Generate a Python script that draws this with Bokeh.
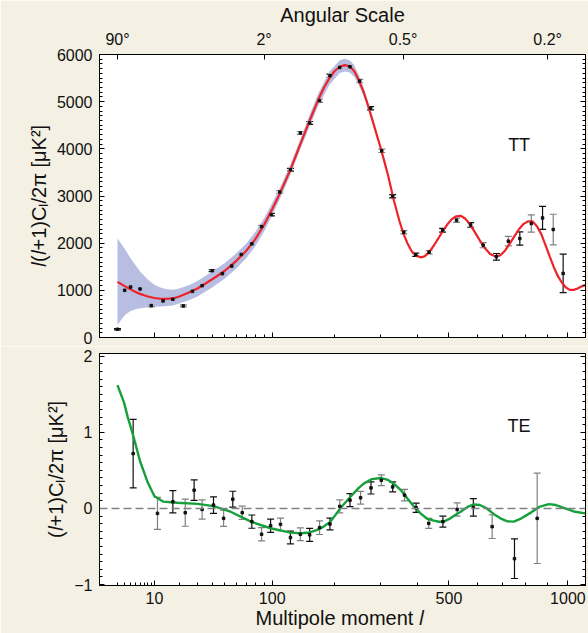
import numpy as np
from bokeh.plotting import figure
from bokeh.models import (Range1d, LinearAxis, FixedTicker, SingleIntervalTicker,
                          CustomJSTickFormatter, Whisker, TeeHead, ColumnDataSource,
                          Span, Label)
from bokeh.layouts import column
from bokeh.embed import file_html
from bokeh.resources import INLINE

# ---------------- data ----------------
# TT binned measurements: multipole, l(l+1)Cl/2pi [uK^2], 1-sigma error
tt_l = [2, 3, 4, 6, 9, 13, 17, 22, 27, 33, 40, 48, 56, 65, 76, 87, 99, 110, 125, 140,
        155, 172, 191, 210, 231, 252, 277, 304, 332, 362, 396, 436, 479, 526, 576,
        623, 675, 724, 773, 824, 876, 927, 976]
tt_d = [175, 1000, 1071, 1029, 676, 775, 810, 670, 978, 1099, 1416, 1352, 1514, 1760,
        1986, 2352, 2605, 3085, 3556, 4338, 4549, 5022, 5550, 5726, 5740, 5436, 4860,
        3957, 2994, 2233, 1754, 1810, 2275, 2487, 2387, 1958, 1711, 2043, 2098, 2416,
        2535, 2289, 1359]
tt_err = [15, 20, 20, 20, 20, 20, 20, 20, 20, 20, 20, 20, 20, 20, 25, 25, 25, 30, 30, 30,
          30, 35, 35, 35, 35, 35, 35, 35, 35, 35, 35, 35, 40, 45, 50, 55, 70, 102, 141,
          183, 243, 324, 408]

# TT best-fit model curve
tt_model_l = [2, 3, 4, 5, 6, 7, 8, 10, 12, 14, 17, 20, 25, 30, 35, 40, 45, 50, 60, 70,
              80, 90, 100, 110, 125, 140, 155, 170, 180, 190, 200, 210, 220, 230, 240,
              250, 260, 270, 280, 290, 300, 310, 320, 335, 350, 362, 372, 385, 398, 410,
              422, 435, 450, 465, 480, 495, 510, 525, 540, 555, 570, 590, 610, 630, 650,
              670, 690, 710, 730, 750, 770, 790, 810, 830, 850, 870, 890, 910, 930, 950,
              970, 990, 1010, 1030, 1050, 1070, 1090]
tt_model_d = [1180, 1090, 1020, 965, 925, 895, 870, 838, 822, 818, 828, 870, 955, 1040,
              1140, 1235, 1325, 1415, 1620, 1835, 2090, 2390, 2720, 3050, 3560, 4100,
              4600, 5050, 5300, 5500, 5650, 5740, 5775, 5750, 5650, 5460, 5230, 4950,
              4650, 4350, 4060, 3750, 3440, 2910, 2470, 2180, 2000, 1820, 1730, 1700,
              1720, 1800, 1940, 2100, 2260, 2400, 2510, 2570, 2580, 2530, 2430, 2250,
              2060, 1890, 1770, 1720, 1740, 1840, 1990, 2150, 2300, 2410, 2465, 2460,
              2360, 2190, 1960, 1720, 1490, 1300, 1160, 1060, 1010, 1010, 1040, 1080, 1110]

# TT cosmic-variance band (lower / upper edge)
tt_band_l = [2, 3, 4, 5, 6, 8, 10, 12, 14, 17, 20, 25, 30, 40, 50, 60, 70, 80, 90, 100,
             110, 125, 140, 155, 170, 190, 210, 220, 230, 240, 250, 260, 270, 280, 300]
tt_band_lo = [270, 470, 560, 600, 620, 640, 650, 655, 662, 680, 720, 790, 870, 1060, 1250,
              1460, 1680, 1940, 2250, 2590, 2930, 3450, 3990, 4480, 4920, 5360, 5610, 5640,
              5620, 5530, 5350, 5140, 4870, 4590, 4020]
tt_band_hi = [2100, 1880, 1680, 1530, 1400, 1230, 1120, 1060, 1030, 1010, 1040, 1110,
              1200, 1400, 1580, 1780, 1990, 2240, 2530, 2850, 3170, 3670, 4210, 4720,
              5180, 5640, 5880, 5910, 5880, 5770, 5570, 5320, 5030, 4710, 4100]

# TE binned measurements: multipole, (l+1)Cl/2pi [uK^2], 1-sigma error
te_l = [4.5, 11, 17, 23, 28, 33, 41, 49, 57, 66, 76, 87, 98, 111, 125, 140, 155, 172,
        191, 210, 231, 254, 278, 303, 332, 364, 397, 435, 480, 528, 586, 658, 750, 851]
te_v = [0.72, -0.065, 0.087, -0.056, 0.24, -0.013, 0.044, -0.13, 0.122, -0.056, -0.173,
        -0.339, -0.226, -0.209, -0.382, -0.339, -0.347, -0.252, -0.204, 0.027, 0.109,
        0.14, 0.27, 0.37, 0.283, 0.175, 0.009, -0.196, -0.173, -0.013, 0.013, -0.239,
        -0.66, -0.13]
te_err = [0.45, 0.21, 0.146, 0.178, 0.135, 0.126, 0.109, 0.106, 0.104, 0.087, 0.087,
          0.087, 0.087, 0.083, 0.083, 0.083, 0.085, 0.09, 0.078, 0.085, 0.085, 0.083,
          0.08, 0.07, 0.065, 0.076, 0.06, 0.065, 0.072, 0.087, 0.115, 0.156, 0.26, 0.593]

# TE best-fit model curve
te_model_l = [2, 2.9, 3.5, 4.5, 6, 8, 10, 13, 19, 30, 41, 55, 75, 98, 125, 140, 155, 168,
              180, 192, 212, 232, 250, 261, 280, 301, 320, 335, 355, 372, 390, 410, 430,
              451, 467, 483, 505, 520, 540, 565, 588, 610, 637, 665, 691, 720, 747, 780,
              816, 860, 906, 940, 979, 1030, 1090]
te_model_v = [1.62, 1.39, 1.2, 0.96, 0.62, 0.34, 0.16, 0.09, 0.074, 0.06, 0.031, -0.043,
              -0.173, -0.26, -0.317, -0.326, -0.315, -0.282, -0.235, -0.173, 0.009, 0.153,
              0.27, 0.326, 0.385, 0.40, 0.375, 0.326, 0.235, 0.13, 0.03, -0.065, -0.135,
              -0.16, -0.175, -0.173, -0.13, -0.09, -0.043, 0.02, 0.052, 0.045, 0.0,
              -0.075, -0.13, -0.17, -0.173, -0.13, -0.065, 0.02, 0.057, 0.045, 0.009,
              -0.04, -0.065]

x_major_labels = [10, 100, 500, 1000]
x_minor_l = [2, 3, 4, 5, 6, 7, 8, 9, 20, 30, 40, 50, 60, 70, 80, 90, 200, 300, 400,
             600, 700, 800, 900]
x_minor_top_l = [20, 30, 40, 50, 60, 70, 80, 90, 200, 300, 400, 600, 700, 800, 900]
angle_deg = [90, 2, 0.5, 0.2]          # angular scale labels; l = 180 / angle
x_start_l, x_end_l = 0.47, 1092

# ---------------- styling ----------------
POW = 0.4
def sx(l):
    return (np.asarray(l, dtype=float) ** POW).tolist()

BG = "#f4f0e3"
FONT = "Liberation Sans"
RED = "#ee2329"
GREEN = "#16a03c"
BAND = "#b4bbdf"

xr = Range1d(sx(x_start_l), sx(x_end_l))


def style_axis(ax, label_size="16px"):
    ax.major_tick_in = 5
    ax.major_tick_out = 0
    ax.minor_tick_in = 3
    ax.minor_tick_out = 0
    ax.axis_line_color = "black"
    ax.major_tick_line_color = "black"
    ax.minor_tick_line_color = "black"
    ax.major_label_text_font = FONT
    ax.major_label_text_font_size = label_size
    ax.major_label_text_color = "#111111"
    ax.axis_label_text_font = FONT
    ax.axis_label_text_font_size = "20px"
    ax.axis_label_text_font_style = "normal"
    ax.axis_label_text_color = "#111111"
    ax.major_label_standoff = 7
    ax.axis_label_standoff = 4


def hide_labels(ax):
    ax.major_label_text_font_size = "1px"
    ax.major_label_text_color = None
    ax.major_label_standoff = 0


def make_fig(height, y_range, mb_top, mb_bottom):
    p = figure(width=588, height=height, x_range=xr, y_range=y_range,
               output_backend="svg", toolbar_location=None,
               min_border_left=99, min_border_right=3,
               min_border_top=mb_top, min_border_bottom=mb_bottom,
               background_fill_color="white", border_fill_color=BG,
               outline_line_color="black", outline_line_width=1,
               x_axis_location=None, y_axis_location=None)
    p.grid.visible = False
    return p


x_fmt = CustomJSTickFormatter(args=dict(p=1.0 / POW),
                              code="return String(Math.round(Math.pow(tick, p)));")
ang_fmt = CustomJSTickFormatter(args=dict(p=1.0 / POW), code="""
    const l = Math.round(Math.pow(tick, p));
    const d = Math.round(1800 / l) / 10;
    return String(d) + '\u00b0';
""")
minus_fmt = CustomJSTickFormatter(code="return tick < 0 ? '\u2212' + Math.abs(tick) : String(tick);")


def add_errorbars(p, xs, ys, errs):
    for parity, col in ((0, "#111111"), (1, "#808080")):
        idx = [i for i in range(len(xs)) if i % 2 == parity]
        src = ColumnDataSource(dict(
            x=sx([xs[i] for i in idx]),
            upper=[ys[i] + errs[i] for i in idx],
            lower=[ys[i] - errs[i] for i in idx]))
        w = Whisker(base="x", upper="upper", lower="lower", source=src,
                    dimension="height", line_color=col, line_width=1.2,
                    upper_head=TeeHead(size=7, line_color=col, line_width=1.2),
                    lower_head=TeeHead(size=7, line_color=col, line_width=1.2))
        p.add_layout(w)
    p.scatter(sx(xs), ys, marker="square", size=2.5, color="#111111")


# ---------------- TT panel ----------------
p1 = make_fig(346, Range1d(0, 6000), 52, 9)

left1 = LinearAxis(ticker=SingleIntervalTicker(interval=1000, num_minor_ticks=10),
                   axis_label="\U0001D459(\U0001D459+1)C\u2097/2\u03c0 [\u03bcK\u00b2]")
style_axis(left1)
p1.add_layout(left1, "left")
right1 = LinearAxis(ticker=SingleIntervalTicker(interval=1000, num_minor_ticks=10))
style_axis(right1)
hide_labels(right1)
p1.add_layout(right1, "right")

below1 = LinearAxis(ticker=FixedTicker(ticks=sx(x_major_labels), minor_ticks=sx(x_minor_top_l)),
                    formatter=x_fmt)
style_axis(below1)
hide_labels(below1)
p1.add_layout(below1, "below")

above1 = LinearAxis(ticker=FixedTicker(ticks=sx([180.0 / a for a in angle_deg]), minor_ticks=[]),
                    formatter=ang_fmt, axis_label="Angular Scale")
style_axis(above1)
above1.axis_label_standoff = 2
p1.add_layout(above1, "above")

p1.varea(x=sx(tt_band_l), y1=tt_band_lo, y2=tt_band_hi, fill_color=BAND, fill_alpha=0.95)
p1.line(sx(tt_model_l), tt_model_d, line_color=RED, line_width=2.2)
add_errorbars(p1, tt_l, tt_d, tt_err)
p1.add_layout(Label(x=float(770 ** POW), y=4080, text="TT",
                    text_align="center", text_baseline="middle",
                    text_font=FONT, text_font_size="18px", text_color="#111111"))

# ---------------- TE panel ----------------
p2 = make_fig(287, Range1d(-1.012, 2.035), 7, 48)

left2 = LinearAxis(ticker=SingleIntervalTicker(interval=1, num_minor_ticks=10),
                   formatter=minus_fmt,
                   axis_label="(\U0001D459+1)C\u2097/2\u03c0 [\u03bcK\u00b2]")
style_axis(left2)
p2.add_layout(left2, "left")
right2 = LinearAxis(ticker=SingleIntervalTicker(interval=1, num_minor_ticks=10))
style_axis(right2)
hide_labels(right2)
p2.add_layout(right2, "right")

below2 = LinearAxis(ticker=FixedTicker(ticks=sx(x_major_labels), minor_ticks=sx(x_minor_l)),
                    formatter=x_fmt, axis_label="Multipole moment  \U0001D459")
style_axis(below2)
below2.major_label_standoff = 6
below2.axis_label_standoff = 0
p2.add_layout(below2, "below")

p2.add_layout(Span(location=0, dimension="width", line_color="#808080",
                   line_dash="8 4", line_width=1.6))
p2.line(sx(te_model_l), te_model_v, line_color=GREEN, line_width=2.4)
add_errorbars(p2, te_l, te_v, te_err)
p2.add_layout(Label(x=float(770 ** POW), y=1.08, text="TE",
                    text_align="center", text_baseline="middle",
                    text_font=FONT, text_font_size="18px", text_color="#111111"))

layout = column(p1, p2, spacing=0)
open("out.html", "w").write(file_html(layout, INLINE))
